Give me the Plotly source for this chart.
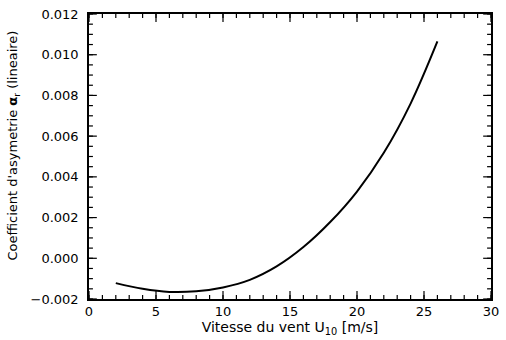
import numpy as np
import plotly.graph_objects as go

wind_speed = [2, 4, 6, 8, 10, 12, 14, 16, 18, 20, 22, 24, 26]
asym_coef = [-0.00122, -0.00150, -0.00165, -0.00162, -0.00143, -0.00106,
             -0.00040, 0.00055, 0.00178, 0.00328, 0.00518, 0.00760, 0.01065]

X_RANGE = [0, 30]
Y_RANGE = [-0.002, 0.012]
X_DTICK, X_MINOR = 5, 1
Y_DTICK, Y_MINOR = 0.002, 0.0005

FONT = "DejaVu Sans, Liberation Sans, sans-serif"
W, H = 506, 340
ML, MR, MT, MB = 89, 7, 13, 40
PW, PH = W - ML - MR, H - MT - MB

fig = go.Figure()
fig.add_trace(go.Scatter(x=wind_speed, y=asym_coef, mode="lines",
                         line=dict(color="black", width=2, shape="spline"),
                         showlegend=False))

axis_common = dict(showline=True, linecolor="black", linewidth=1.5, mirror=True,
                   ticks="", showgrid=False, zeroline=False,
                   tickfont=dict(family=FONT, size=13, color="black"))

fig.update_xaxes(range=X_RANGE, tickmode="linear", tick0=0, dtick=X_DTICK,
                 title=dict(text="Vitesse du vent U<sub>10</sub> [m/s]",
                            font=dict(family=FONT, size=14, color="black"), standoff=4),
                 **axis_common)
fig.update_yaxes(range=Y_RANGE, tickmode="linear", tick0=0, dtick=Y_DTICK,
                 tickformat=".3f", ticklabelstandoff=6, **axis_common)

# inside tick marks on all four sides (axis decoration)
shapes = []
def add_xticks(step, length):
    for v in np.arange(X_RANGE[0], X_RANGE[1] + step / 2, step):
        f = length / PH
        for y0, y1 in ((0, f), (1, 1 - f)):
            shapes.append(dict(type="line", xref="x", yref="paper", x0=v, x1=v, y0=y0, y1=y1,
                               line=dict(color="black", width=1.2)))
def add_yticks(step, length):
    for v in np.arange(Y_RANGE[0], Y_RANGE[1] + step / 2, step):
        f = length / PW
        for x0, x1 in ((0, f), (1, 1 - f)):
            shapes.append(dict(type="line", xref="paper", yref="y", x0=x0, x1=x1, y0=v, y1=v,
                               line=dict(color="black", width=1.2)))
add_xticks(X_DTICK, 8)
add_xticks(X_MINOR, 4)
add_yticks(Y_DTICK, 8)
add_yticks(Y_MINOR, 4)

fig.update_layout(width=W, height=H, margin=dict(l=ML, r=MR, t=MT, b=MB),
                  paper_bgcolor="white", plot_bgcolor="white",
                  font=dict(family=FONT, color="black"), shapes=shapes,
                  annotations=[dict(text="Coefficient d'asymetrie <b>\u03b1</b><sub>r</sub> (lineaire)",
                                    textangle=-90, xref="paper", yref="paper",
                                    x=(12 - ML) / PW, y=(MT + PH - 146) / PH,
                                    xanchor="center", yanchor="middle", showarrow=False,
                                    font=dict(family=FONT, size=13, color="black"))])

fig.write_html("out.html")
